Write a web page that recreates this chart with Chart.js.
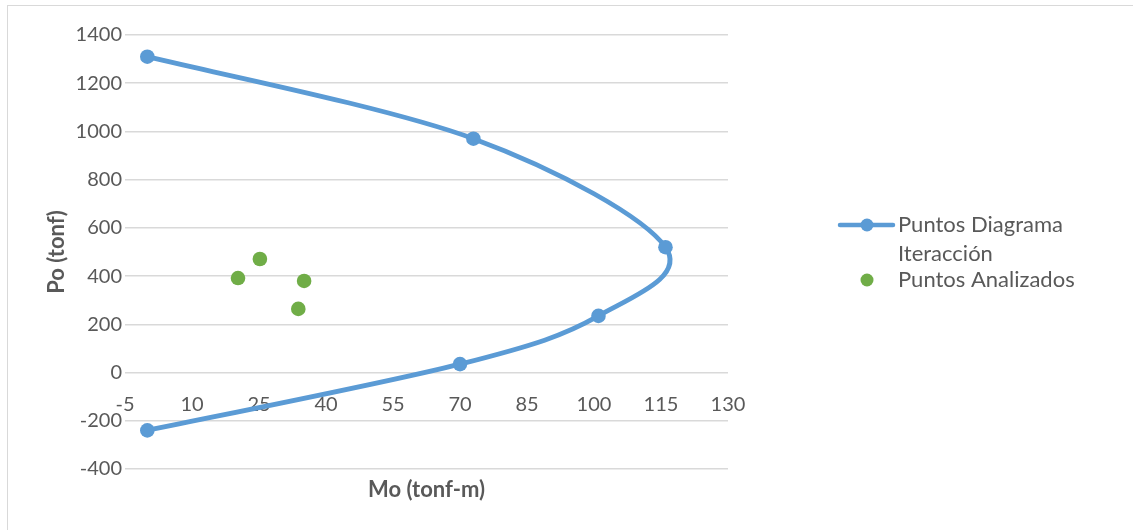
<!DOCTYPE html>
<html>
<head>
<meta charset="utf-8">
<script src="https://cdn.jsdelivr.net/npm/chart.js@4/dist/chart.umd.min.js"></script>
<style>
  html, body { margin: 0; padding: 0; background: #fff; }
  #wrap { position: relative; width: 1133px; height: 530px; overflow: hidden; }
  #frame { position: absolute; left: 7px; top: 5px; width: 1200px; height: 600px;
           border-left: 1.5px solid #d9d9d9; border-top: 1.5px solid #d9d9d9; box-sizing: border-box; }
  canvas { position: absolute; left: 0; top: 0; }
</style>
</head>
<body>
<div id="wrap">
  <div id="frame"></div>
  <canvas id="c" width="1133" height="530"></canvas>
</div>
<script>
// Interaction diagram (Mo, Po) and analysed load points
const diagramMo = [0, 73, 116, 101, 70, 0];
const diagramPo = [1310, 970, 520, 235, 35, -240];
const analysedMo = [20.3, 25.2, 35.1, 33.8];
const analysedPo = [392, 471, 380, 264];

const xTicks = [-5, 10, 25, 40, 55, 70, 85, 100, 115, 130];
const yTicks = [-400, -200, 0, 200, 400, 600, 800, 1000, 1200, 1400];

const seriesNames = [['Puntos Diagrama', 'Iteracción'], ['Puntos Analizados']];
const xTitle = 'Mo (tonf-m)';
const yTitle = 'Po (tonf)';

const BLUE = '#5b9bd5';
const GREEN = '#70ad47';
const TEXT = '#595959';
const GRID = '#d9d9d9';
const FONT = 'Lato, "Open Sans", sans-serif';

const toPoints = (xs, ys) => xs.map((x, i) => ({ x: x, y: ys[i] }));
const fixedTicks = list => scale => { scale.ticks = list.map(v => ({ value: v })); };

// Uniform Catmull-Rom control points (1/6 of the neighbour chord) for the smoothed line
const uniformSpline = {
  id: 'uniformSpline',
  beforeDatasetDraw(chart, args) {
    const meta = args.meta;
    const line = meta.dataset;
    if (!line || !meta.controller.getDataset().showLine) return;
    line.updateControlPoints(chart.chartArea, 'x');
    const pts = meta.data;
    const n = pts.length;
    for (let i = 0; i < n; i++) {
      const p = pts[i];
      const a = pts[Math.max(i - 1, 0)];
      const b = pts[Math.min(i + 1, n - 1)];
      const dx = (b.x - a.x) / 6;
      const dy = (b.y - a.y) / 6;
      p.cp1x = p.x - dx; p.cp1y = p.y - dy;
      p.cp2x = p.x + dx; p.cp2y = p.y + dy;
    }
  }
};

// Legend drawn beside the plot, with a two-line first entry
const sideLegend = {
  id: 'sideLegend',
  afterDraw(chart) {
    const ctx = chart.ctx;
    ctx.save();
    ctx.font = '22px ' + FONT;
    ctx.textBaseline = 'alphabetic';
    ctx.textAlign = 'left';
    // line series symbol
    ctx.strokeStyle = BLUE;
    ctx.lineWidth = 4.5;
    ctx.lineCap = 'round';
    ctx.beginPath();
    ctx.moveTo(840, 225);
    ctx.lineTo(893, 225);
    ctx.stroke();
    ctx.fillStyle = BLUE;
    ctx.beginPath();
    ctx.arc(867, 225, 6.5, 0, Math.PI * 2);
    ctx.fill();
    ctx.fillStyle = TEXT;
    ctx.fillText(seriesNames[0][0], 898, 232);
    ctx.fillText(seriesNames[0][1], 898, 261);
    // marker-only series symbol
    ctx.fillStyle = GREEN;
    ctx.beginPath();
    ctx.arc(867, 280, 6.5, 0, Math.PI * 2);
    ctx.fill();
    ctx.fillStyle = TEXT;
    ctx.fillText(seriesNames[1][0], 898, 287);
    ctx.restore();
  }
};

new Chart(document.getElementById('c'), {
  type: 'scatter',
  data: {
    datasets: [
      {
        label: seriesNames[0].join(' '),
        data: toPoints(diagramMo, diagramPo),
        showLine: true,
        tension: 0.4,
        borderColor: BLUE,
        borderWidth: 4.8,
        backgroundColor: BLUE,
        pointRadius: 7.3,
        pointHoverRadius: 7.3,
        pointBorderWidth: 0,
        order: 2
      },
      {
        label: seriesNames[1][0],
        data: toPoints(analysedMo, analysedPo),
        showLine: false,
        backgroundColor: GREEN,
        borderColor: GREEN,
        pointRadius: 7.3,
        pointHoverRadius: 7.3,
        pointBorderWidth: 0,
        order: 1
      }
    ]
  },
  options: {
    responsive: false,
    animation: false,
    devicePixelRatio: 1,
    layout: { padding: { top: 35, right: 405, left: 0, bottom: 0 } },
    plugins: { legend: { display: false }, tooltip: { enabled: false } },
    scales: {
      x: {
        type: 'linear',
        position: { y: 0 },
        min: -5, max: 130,
        afterBuildTicks: fixedTicks(xTicks),
        grid: { display: false, drawTicks: false },
        border: { display: false },
        ticks: { color: TEXT, font: { family: FONT, size: 20 }, padding: 20, maxRotation: 0,
                 callback: v => String(v) }
      },
      xt: {
        type: 'linear',
        axis: 'x',
        position: 'bottom',
        min: -5, max: 130,
        afterFit: s => { s.height = 61; },
        grid: { display: false, drawTicks: false },
        border: { display: false },
        ticks: { display: false },
        title: { display: true, text: xTitle, color: TEXT,
                 font: { family: FONT, size: 22, weight: 'bold' }, padding: { top: 0, bottom: 27 } }
      },
      y: {
        type: 'linear',
        position: 'left',
        min: -400, max: 1400,
        afterBuildTicks: fixedTicks(yTicks),
        afterFit: s => { s.width = 125; },
        grid: { color: GRID, lineWidth: 1.5, drawTicks: false },
        border: { display: false },
        ticks: { color: TEXT, font: { family: FONT, size: 20 }, padding: 3,
                 callback: v => String(v) },
        title: { display: true, text: yTitle, color: TEXT,
                 font: { family: FONT, size: 22, weight: 'bold' }, padding: { top: 44, bottom: 0 } }
      }
    }
  },
  plugins: [uniformSpline, sideLegend]
});
</script>
</body>
</html>
